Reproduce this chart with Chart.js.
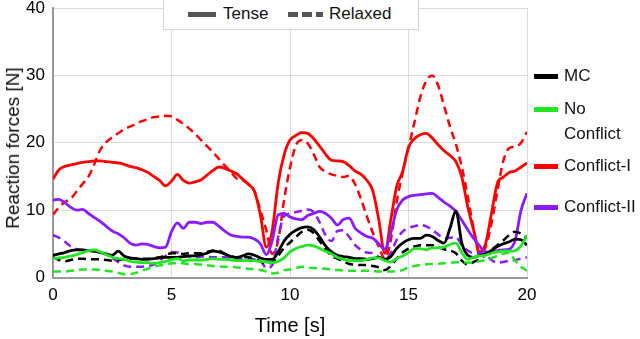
<!DOCTYPE html>
<html>
<head>
<meta charset="utf-8">
<script src="https://cdn.jsdelivr.net/npm/chart.js@4/dist/chart.umd.min.js"></script>
<style>
  body { margin: 0; background: #fff; font-family: "Liberation Sans", Arial, sans-serif; }
  #wrap { position: relative; width: 640px; height: 339px; }
  #topLegend { position: absolute; left: 163px; top: -1px; width: 254px; height: 29px;
    border: 1px solid #d4d4d4; background: #fff; }
  .sample { position: absolute; height: 5px; }
  .lbl { position: absolute; font-size: 17px; color: #111; line-height: 20px; white-space: nowrap; }
  #yTitle { position: absolute; left: 12.5px; top: 148px; font-size: 19px; color: #111; white-space: nowrap;
    transform: translate(-50%, -50%) rotate(-90deg); }
</style>
</head>
<body>
<div id="wrap">
  <canvas id="chart" width="640" height="339"></canvas>
  <div id="yTitle">Reaction forces [N]</div>
  <div id="topLegend">
    <div class="sample" style="left:24px;top:12px;width:28px;background:#555;"></div>
    <div class="lbl" style="left:59px;top:4px;">Tense</div>
    <div class="sample" style="left:124px;top:12px;width:35px;background:repeating-linear-gradient(90deg,#555 0 10px,transparent 10px 14px);"></div>
    <div class="lbl" style="left:165px;top:4px;">Relaxed</div>
  </div>
  <div id="sideLegend"></div>
</div>
<script>
// time axis [s]
var time = [0,0.25,0.5,0.75,1,1.25,1.5,1.75,2,2.25,2.5,2.75,3,3.25,3.5,3.75,4,4.25,4.5,4.75,
  5,5.25,5.5,5.75,6,6.25,6.5,6.75,7,7.25,7.5,7.75,8,8.25,8.5,8.75,9,9.25,9.5,9.75,
  10,10.25,10.5,10.75,11,11.25,11.5,11.75,12,12.25,12.5,12.75,13,13.25,13.5,13.75,14,14.25,14.5,14.75,
  15,15.25,15.5,15.75,16,16.25,16.5,16.75,17,17.25,17.5,17.75,18,18.25,18.5,18.75,19,19.25,19.5,19.75,20];

// reaction forces [N], tense = solid, relaxed = dashed
var mcTense = [3.3,3.5,3.7,4.0,4.1,4.1,4.0,3.9,3.7,3.5,3.3,3.9,3.2,2.9,2.8,2.7,2.7,2.8,2.9,3.0,
  3.0,3.0,3.1,3.2,3.2,3.4,3.6,3.9,3.8,3.5,3.1,3.0,3.2,3.5,3.3,2.9,2.7,2.7,3.8,5.4,
  6.4,7.0,7.4,7.5,7.1,6.0,4.7,3.8,3.3,3.1,3.0,2.8,2.8,2.7,2.8,3.0,2.7,3.1,4.3,5.1,
  5.6,5.8,5.8,6.3,6.1,5.5,5.1,7.3,9.9,5.1,3.3,3.0,3.3,3.5,4.0,4.6,5.0,5.3,5.7,5.6,4.8];
var mcRelaxed = [3.0,2.6,2.4,2.6,2.8,2.8,2.7,2.7,2.7,2.6,2.5,2.6,2.7,2.8,2.8,2.8,2.8,2.9,3.0,3.3,
  3.6,3.6,3.5,3.6,3.6,3.6,3.8,4.0,4.0,3.5,3.2,3.0,3.0,3.0,2.8,2.4,2.1,2.2,3.2,4.4,
  5.2,6.0,6.8,7.1,6.6,5.4,4.2,3.2,2.8,2.4,2.0,1.9,1.85,1.85,1.7,1.5,1.1,1.7,2.8,3.7,
  4.3,4.6,4.8,4.8,4.8,4.5,4.2,4.0,3.6,2.5,1.9,2.3,2.7,3.4,4.1,4.8,5.5,6.3,6.8,6.5,5.8];
var noConflictTense = [2.8,2.9,3.0,3.2,3.4,3.7,4.0,4.1,3.8,3.4,3.0,2.8,2.7,2.4,2.3,2.2,2.2,2.1,2.2,2.4,
  2.6,2.8,2.5,2.6,2.6,2.6,2.7,2.8,2.7,2.7,2.6,2.5,2.5,2.5,2.5,2.4,2.3,2.2,2.4,2.9,
  3.8,4.3,4.6,4.8,4.7,4.3,3.9,3.5,3.0,2.7,2.5,2.5,2.5,2.7,2.9,2.9,2.5,2.3,2.8,3.2,
  3.7,4.3,4.3,4.1,4.4,4.4,4.5,4.9,5.1,3.7,2.7,3.0,3.2,3.3,3.6,3.8,3.9,3.9,4.0,4.7,6.3];
var noConflictRelaxed = [0.9,0.9,0.9,1.0,1.1,1.2,1.2,1.2,1.1,1.0,0.9,0.7,0.5,0.5,0.7,1.0,1.3,1.6,1.8,1.9,
  2.1,2.1,2.1,2.0,2.0,1.9,1.8,1.7,1.65,1.6,1.6,1.5,1.4,1.3,1.2,1.1,0.9,0.6,0.7,1.1,
  1.2,1.4,1.6,1.5,1.4,1.35,1.3,1.2,1.1,1.05,1.0,1.0,1.0,1.0,0.95,0.9,0.9,0.9,0.95,1.1,
  1.5,1.7,1.85,1.95,2.0,2.05,2.1,2.2,2.25,2.3,2.2,2.25,2.4,2.6,2.9,3.2,3.5,3.7,2.5,1.6,1.0];
var conflict1Tense = [14.6,16.0,16.5,16.7,16.9,17.1,17.2,17.3,17.3,17.2,17.1,17.0,16.8,16.5,16.3,16.0,15.6,15.0,14.4,13.6,
  14.3,15.3,14.4,14.0,14.2,14.5,15.2,15.9,16.4,16.2,15.8,15.4,14.6,13.8,12.8,9.3,4.5,7.0,14.0,18.2,
  20.4,21.1,21.5,21.4,20.6,19.5,18.3,17.4,17.3,17.2,16.6,15.8,15.3,14.4,12.8,8.5,3.6,8.5,13.5,15.7,
  19.3,20.6,21.2,21.4,20.7,19.7,18.8,18.1,17.2,14.9,10.5,7.0,3.8,5.0,9.5,14.0,14.9,15.6,15.8,16.4,17.0];
var conflict1Relaxed = [9.3,10.4,11.2,11.7,12.8,13.9,15.0,16.9,19.0,20.1,20.8,21.4,22.0,22.4,22.8,23.2,23.5,23.8,23.9,24.0,
  23.9,23.4,22.8,22.1,21.3,20.4,19.5,18.6,17.6,16.6,15.7,14.7,14.4,13.9,12.8,10.0,7.0,3.5,5.5,11.5,
  16.3,19.6,20.4,19.9,18.3,16.4,15.7,15.3,15.1,14.9,15.1,13.8,11.6,9.0,6.6,4.5,2.8,5.5,11.2,15.5,
  19.3,23.0,26.8,29.2,30.0,28.5,25.5,22.4,19.8,16.4,12.0,7.2,3.5,4.5,8.0,12.8,17.3,19.2,19.4,20.0,21.6];
var conflict2Tense = [11.5,11.6,11.1,10.4,10.0,10.1,9.5,8.9,8.3,7.6,6.9,6.5,5.9,5.1,4.8,5.0,4.9,4.6,4.4,4.5,
  6.8,8.1,7.3,8.2,8.2,8.0,8.2,8.2,7.6,6.9,6.3,6.1,6.0,6.0,5.7,5.0,3.4,5.5,9.3,9.5,
  9.0,8.7,8.6,9.2,9.5,9.8,9.5,8.8,7.8,8.6,8.8,7.3,6.6,6.1,5.8,5.0,4.2,6.6,10.0,11.5,
  12.0,12.2,12.3,12.4,12.5,11.9,11.2,10.6,9.8,8.5,7.1,5.8,4.7,3.8,3.8,4.0,4.1,4.2,5.5,10.0,12.5];
var conflict2Relaxed = [6.3,5.9,5.3,4.6,4.2,4.1,4.0,3.9,3.7,3.4,2.9,2.3,1.8,1.6,1.6,1.6,1.7,1.9,2.5,3.2,
  3.8,3.7,3.3,3.1,3.0,3.1,3.1,3.0,3.0,3.0,2.9,2.7,2.7,2.8,2.7,2.5,1.4,1.8,6.0,9.1,
  9.5,9.7,9.9,10.1,9.7,8.2,6.3,5.4,6.9,7.0,6.0,4.8,4.1,3.7,3.6,3.0,2.6,3.6,5.6,6.8,
  7.4,7.6,7.8,7.6,7.1,6.4,5.8,5.9,6.0,4.8,4.0,3.6,3.6,3.4,2.6,2.2,2.3,2.5,2.6,2.8,3.0];

var conditions = ['MC', 'No Conflict', 'Conflict-I', 'Conflict-II'];
var colors = ['#000000', '#22e622', '#ff0000', '#8c1aff'];

function pts(values) {
    return values.map((v, i) => ({ x: time[i], y: v }));
}

function series(values, color, dashed) {
    return {
        data: pts(values),
        borderColor: color,
        borderWidth: dashed ? 2.5 : 2.8,
        borderDash: dashed ? [8, 5] : [],
        pointRadius: 0,
        fill: false,
        cubicInterpolationMode: 'monotone'
    };
}

Chart.defaults.font.family = '"Liberation Sans", Arial, sans-serif';
Chart.defaults.color = '#000';

const ctx = document.getElementById('chart').getContext('2d');
const myChart = new Chart(ctx, {
    type: 'line',
    data: {
        datasets: [
            series(noConflictRelaxed, colors[1], true),
            series(noConflictTense, colors[1], false),
            series(mcRelaxed, colors[0], true),
            series(mcTense, colors[0], false),
            series(conflict2Relaxed, colors[3], true),
            series(conflict2Tense, colors[3], false),
            series(conflict1Relaxed, colors[2], true),
            series(conflict1Tense, colors[2], false)
        ]
    },
    options: {
        responsive: false,
        animation: false,
        layout: { padding: { top: 8, right: 113, bottom: 0, left: 0 } },
        plugins: { legend: { display: false }, tooltip: { enabled: false } },
        scales: {
            x: {
                type: 'linear', min: 0, max: 20,
                ticks: { stepSize: 5, font: { size: 17 }, padding: 8 },
                grid: { color: '#dcdcdc', drawTicks: false },
                border: { color: '#999', width: 2 },
                title: { display: true, text: 'Time [s]', font: { size: 20 }, padding: { top: 0, bottom: 1 } },
                afterFit: function (scale) { scale.height = 61.5; scale.paddingRight = 0; }
            },
            y: {
                min: 0, max: 40,
                ticks: { stepSize: 10, font: { size: 17 }, padding: 8 },
                grid: { color: '#dcdcdc', drawTicks: false },
                border: { color: '#999', width: 2 },
                afterFit: function (scale) { scale.width = 53; scale.paddingTop = 0; scale.paddingBottom = 0; }
            }
        }
    }
});

// colour legend on the right
var side = document.getElementById('sideLegend');
var rows = [['MC'], ['No', 'Conflict'], ['Conflict-I'], ['Conflict-II']];
var rowY = [76, 109, 166, 207];
rows.forEach((r, i) => {
    var s = document.createElement('div');
    s.className = 'sample';
    s.style.left = '534px';
    s.style.width = '24px';
    s.style.top = (rowY[i] - 2) + 'px';
    s.style.background = colors[i];
    side.appendChild(s);
    r.forEach((t, j) => {
        var l = document.createElement('div');
        l.className = 'lbl';
        l.style.left = '564px';
        l.style.top = (rowY[i] - 10 + j * 25) + 'px';
        l.textContent = t;
        side.appendChild(l);
    });
});
</script>
</body>
</html>
